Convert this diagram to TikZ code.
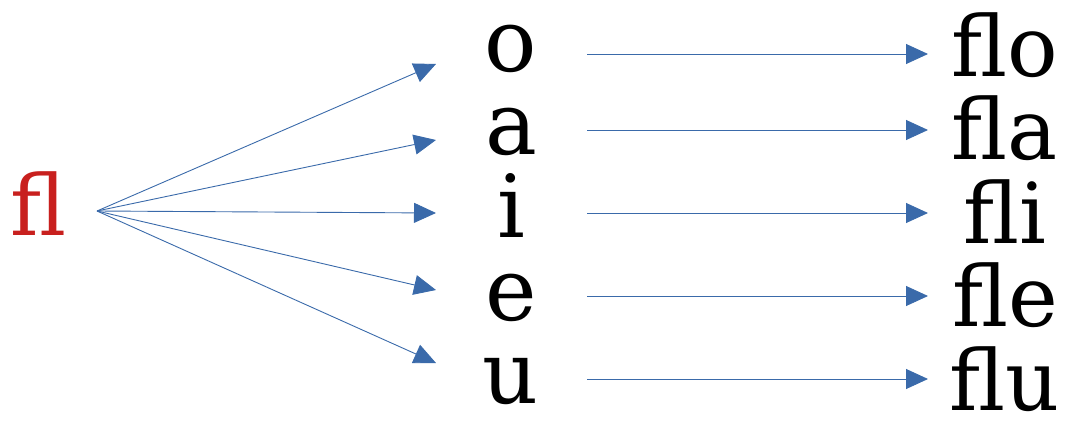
\documentclass[tikz,border=0pt]{standalone}
\usepackage{fontspec}
\setmainfont{DejaVu Serif}
\usetikzlibrary{arrows.meta}
\definecolor{arrblue}{HTML}{3A6AAA}
\definecolor{fred}{HTML}{C8201E}
\tikzset{
  conn/.style={draw=arrblue, line width=0.9pt, -{Triangle[length=22pt,width=20pt]}},
  mid/.style={anchor=base, inner sep=0pt, font=\fontsize{87}{87}\selectfont},
  word/.style={anchor=base, inner sep=0pt, font=\fontsize{84}{84}\selectfont},
}
\begin{document}
\begin{tikzpicture}[x=1pt,y=-1pt]
\useasboundingbox (0,0) rectangle (1069,423);
\node[word, text=fred] (fl) at (39,235) {fl};
\coordinate (src) at (97,211);
% middle letters
\node[mid] (mo) at (511,71) {o};
\node[mid] (ma) at (511,154) {a};
\node[mid] (mi) at (511,237) {i};
\node[mid] (me) at (511,320) {e};
\node[mid] (mu) at (511,403) {u};
% right words
\node[word] (wo) at (1005,76) {flo};
\node[word] (wa) at (1005,159.5) {fla};
\node[word] (wi) at (1005,243) {fli};
\node[word] (we) at (1005,326.5) {fle};
\node[word] (wu) at (1005,410) {flu};
% fan arrow ends
\coordinate (eo) at (436,64);
\coordinate (ea) at (436,140);
\coordinate (ei) at (436,213);
\coordinate (ee) at (436,290);
\coordinate (eu) at (436,363);
\foreach \e in {eo,ea,ei,ee,eu} \draw[conn] (src) -- (\e);
% right arrows
\foreach \y/\n in {54/o,130/a,213/i,296/e,379/u} {
  \coordinate (s\n) at (587,\y);
  \coordinate (t\n) at (928,\y);
  \draw[conn] (s\n) -- (t\n);
}
\end{tikzpicture}
\end{document}
